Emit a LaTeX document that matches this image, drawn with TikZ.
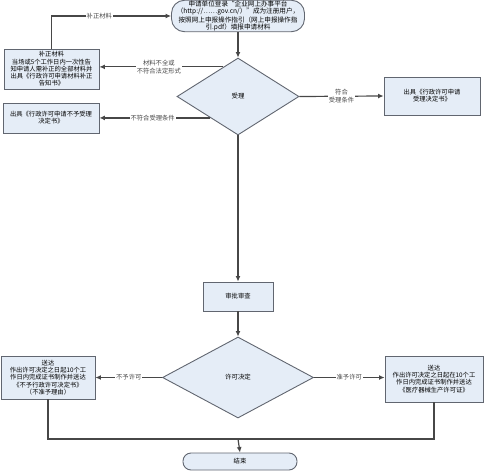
\documentclass[tikz,border=0pt]{standalone}
\usepackage{fontspec}
\usetikzlibrary{arrows.meta,calc,positioning,shapes.geometric}
\newfontfamily\cjk{Noto Sans CJK SC}
\definecolor{lineagrey}{rgb}{0.28,0.28,0.28}
\definecolor{bordegrey}{rgb}{0.38,0.40,0.44}
\definecolor{pastelsteel}{rgb}{0.90,0.93,0.97}
\tikzset{
  caja/.style={
    draw=bordegrey,
    fill=pastelsteel,
    line width=.9pt,
    align=center,
    inner sep=1pt,
    font=\cjk\fontsize{6.3}{7.2}\selectfont
  },
  rombo/.style={
    diamond,
    draw=bordegrey,
    fill=pastelsteel,
    line width=.9pt,
    inner sep=0pt,
    font=\cjk\fontsize{6.4}{7.4}\selectfont
  },
  terminal/.style={
    caja,
    rounded corners=8pt
  },
  etiqueta/.style={
    fill=white,
    inner sep=1pt,
    align=center,
    font=\cjk\fontsize{6.3}{7.4}\selectfont
  },
  arrow/.style={
    -{Latex[length=5.5pt,width=5pt]},
    line width=1.2pt,
    lineagrey
  },
  linea/.style={
    line width=1.2pt,
    lineagrey
  }
}
\begin{document}
\begin{tikzpicture}[x=1pt,y=-1pt]
\useasboundingbox (0,0) rectangle (484,473);
% nodos
\node[terminal,rounded corners=13pt,minimum width=133pt,minimum height=29pt,font=\cjk\fontsize{6.6}{7}\selectfont] (inicio) at (238,16)
  {申请单位登录“企业网上办事平台\\（http://……gov.cn/）”成为注册用户，\\按照网上申报操作指引（网上申报操作指\\引.pdf）填报申请材料};
\node[rombo,minimum width=122pt,minimum height=77pt] (aceptar) at (238,96.5) {受理};
\node[caja,minimum width=95pt,minimum height=40pt] (subsanar) at (51.5,69)
  {补正材料\\当场或5个工作日内一次性告\\知申请人需补正的全部材料并\\出具《行政许可申请材料补正\\告知书》};
\node[caja,minimum width=96pt,minimum height=30pt] (rechazo) at (51,118)
  {出具《行政许可申请不予受理\\决定书》};
\node[caja,minimum width=96pt,minimum height=38pt] (admite) at (432,96)
  {出具《行政许可申请\\受理决定书》};
\node[caja,minimum width=70pt,minimum height=29pt] (revision) at (238,296.5) {审批审查};
\node[rombo,minimum width=151pt,minimum height=81pt] (decision) at (238,377.5) {许可决定};
\node[caja,minimum width=94pt,minimum height=43pt] (denegar) at (48,377.5)
  {送达\\作出许可决定之日起10个工\\作日内完成证书制作并送达\\《不予行政许可决定书》\\（不准予理由）};
\node[caja,minimum width=98pt,minimum height=46pt] (otorgar) at (434,379)
  {送达\\作出许可决定之日起在10个工\\作日内完成证书制作并送达\\《医疗器械生产许可证》};
\node[terminal,minimum width=114pt,minimum height=17pt] (fin) at (240,461.5) {结束};
\coordinate (p1) at ($(aceptar.north)!0.24!(aceptar.west)$);
\coordinate (p2) at ($(aceptar.west)!0.55!(aceptar.south)$);
\coordinate (union) at (238,439);
% conectores
\draw[arrow] (inicio) -- (aceptar);
\draw[arrow] (subsanar.north) |- node[etiqueta,pos=.7] {补正材料} (inicio.west);
\draw[arrow] (p1) -- node[etiqueta,pos=.52] {材料不全或\\不符合法定形式} (p1 -| subsanar.east);
\draw[arrow] (p2) -- node[etiqueta,pos=.52] {不符合受理条件} (p2 -| rechazo.east);
\draw[arrow] (aceptar.east) -- node[etiqueta,pos=.5] {符合\\受理条件} (admite.west);
\draw[arrow] (aceptar.south) -- (revision.north);
\draw[arrow] (revision.south) -- (decision.north);
\draw[arrow] (decision.west) -- node[etiqueta,pos=.5] {不予许可} (denegar.east);
\draw[arrow] (decision.east) -- node[etiqueta,pos=.5] {准予许可} (decision.east -| otorgar.west);
\draw[linea] (denegar.south) |- (union) -| (otorgar.south);
\draw[arrow] (union) -- (fin.north);
\end{tikzpicture}
\end{document}
